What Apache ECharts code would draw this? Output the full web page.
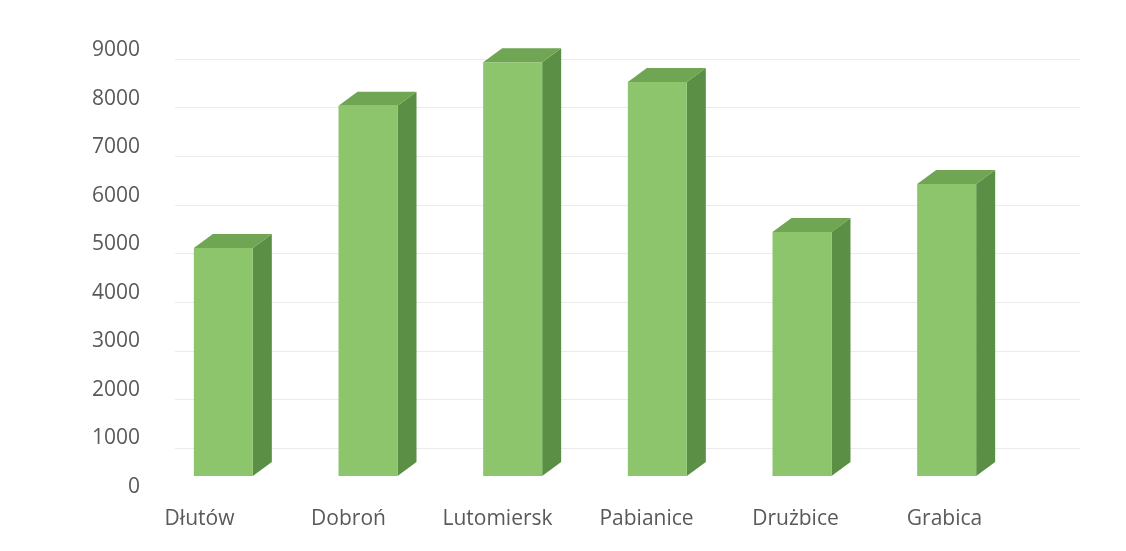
<!DOCTYPE html>
<html>
<head>
<meta charset="utf-8">
<script src="https://cdn.jsdelivr.net/npm/echarts@6/dist/echarts.min.js"></script>
<style>
  html, body { margin: 0; padding: 0; background: #fff; }
  #chart { width: 1126px; height: 551px; }
</style>
</head>
<body>
<div id="chart"></div>
<script>
const categories = ['Dłutów', 'Dobroń', 'Lutomiersk', 'Pabianice', 'Drużbice', 'Grabica']
const values = [4920, 7850, 8750, 8340, 5250, 6240]
const yTicks = [0, 1000, 2000, 3000, 4000, 5000, 6000, 7000, 8000, 9000]

const FRONT = '#8cc56b'
const TOP = '#6fa553'
const SIDE = '#5b8f46'
const FONT = '"Open Sans", sans-serif'

const chart = echarts.init(document.getElementById('chart'))

// pseudo-3D column: front face + top + right side
function renderBox(params, api) {
  const pt = api.coord([api.value(0), api.value(1)])
  const base = api.coord([api.value(0), 0])
  const w = 59, dx = 19, dy = -14, lift = 11
  const l = pt[0] - w / 2, r = l + w
  const top = pt[1], bot = base[1] - lift
  return {
    type: 'group',
    children: [
      {
        type: 'polygon',
        shape: { points: [[r, top], [r + dx, top + dy], [r + dx, bot + dy], [r, bot]] },
        style: { fill: SIDE }
      },
      {
        type: 'polygon',
        shape: { points: [[l, top], [r, top], [r + dx, top + dy], [l + dx, top + dy]] },
        style: { fill: TOP }
      },
      {
        type: 'rect',
        shape: { x: l, y: top, width: w, height: bot - top },
        style: { fill: FRONT }
      }
    ]
  }
}

const option = {
  backgroundColor: '#fff',
  animation: false,
  grid: [
    { left: 151, right: 107, top: 50, bottom: 64 },
    { left: 125, right: 107, top: 50, bottom: 64 },
    { left: 175, right: 46, top: 59, bottom: 54 }
  ],
  xAxis: [
    { gridIndex: 0, type: 'category', data: categories, show: false },
    {
      gridIndex: 1, type: 'category', data: categories,
      axisLine: { show: false }, axisTick: { show: false },
      axisLabel: { color: '#595959', fontSize: 21, fontFamily: FONT, margin: 22 }
    },
    { gridIndex: 2, type: 'value', show: false }
  ],
  yAxis: [
    {
      gridIndex: 0, type: 'value', min: yTicks[0], max: yTicks[yTicks.length - 1], interval: 1000,
      axisLine: { show: false }, axisTick: { show: false },
      splitLine: { show: false },
      axisLabel: { color: '#595959', fontSize: 21, fontFamily: FONT, margin: 11, formatter: v => String(v) }
    },
    { gridIndex: 1, type: 'value', min: 0, max: 9000, show: false },
    {
      gridIndex: 2, type: 'value', min: 0, max: 9000, interval: 1000,
      axisLine: { show: false }, axisTick: { show: false }, axisLabel: { show: false },
      splitLine: { showMinLine: false, lineStyle: { color: '#ebebeb', width: 1 } }
    }
  ],
  series: [{
    type: 'custom',
    xAxisIndex: 0,
    yAxisIndex: 0,
    renderItem: renderBox,
    data: categories.map((c, i) => [i, values[i]])
  }]
}

chart.setOption(option)
</script>
</body>
</html>
